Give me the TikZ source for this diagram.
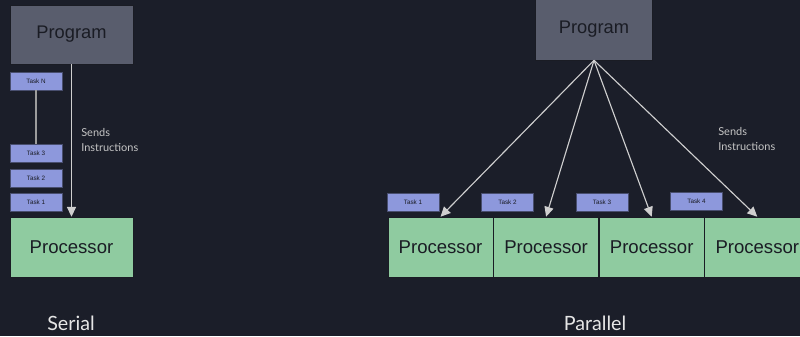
\documentclass[tikz,border=0pt]{standalone}
\usepackage{fontspec}
\setmainfont{Liberation Sans}
\newfontfamily\capfont{Lato}
\usetikzlibrary{arrows.meta,positioning}

\definecolor{bgnavy}{HTML}{1B1E29}
\definecolor{prgrey}{HTML}{595D6D}
\definecolor{taskblue}{HTML}{8D98DC}
\definecolor{procgreen}{HTML}{8FCBA0}
\definecolor{inktext}{HTML}{1A1C24}
\definecolor{wiregrey}{HTML}{9C9C9C}
\definecolor{capwhite}{HTML}{E6E6E6}

\begin{document}
\begin{tikzpicture}[
	x=0.025cm, y=-0.025cm,
	program/.style={ draw=inktext, thin, fill=prgrey, text=inktext, inner sep=0pt, font=\fontsize{13}{15}\selectfont },
	task/.style={ draw=inktext!60!taskblue, very thin, fill=taskblue, text=inktext, inner sep=0pt, minimum width=1.3cm, minimum height=0.45cm, font=\fontsize{4.5}{5}\selectfont },
	proc/.style={ draw=inktext, thin, fill=procgreen, text=inktext, inner sep=0pt, minimum height=1.5cm, font=\fontsize{13.2}{15}\selectfont },
	sends/.style={ anchor=west, align=left, inner sep=0pt, text=capwhite!85!black, font=\capfont\fontsize{7.8}{10}\selectfont },
	caption/.style={ text=capwhite, font=\capfont\fontsize{14}{16}\selectfont },
	wire/.style={ wiregrey, thick },
	send/.style={ draw=capwhite!90!black, thick, -{Triangle[length=7pt,width=6.5pt]} }
]
\fill[bgnavy] (0,0) rectangle (800,336);
\useasboundingbox (0,0) rectangle (800,336);

% serial side
\node at (71.5,34.5) (sprog) [program, minimum width=3.075cm, minimum height=1.475cm] {Program};
\node at (36,81) (staskN) [task] {Task N};
\node at (36,153.5) (stask3) [task] {Task 3};
\node at (36,178) (stask2) [task] {Task 2};
\node at (36,202) (stask1) [task] {Task 1};
\node at (71.5,247) (sproc) [proc, minimum width=3.075cm] {Processor};
\draw[wire] (staskN) to (stask3);
\draw[send] (sprog) to (sproc);
\node at (81,140) (ssends) [sends] {Sends\\Instructions};
\node at (71,323) (serial) [caption] {Serial};

% parallel side
\node at (594,29) (pprog) [program, minimum width=2.925cm, minimum height=1.55cm] {Program};
\node at (440.5,247) (proc1) [proc, minimum width=2.625cm] {Processor};
\node (proc2) [proc, minimum width=2.625cm, right=0pt of proc1] {Processor};
\node (proc3) [proc, minimum width=2.625cm, right=0pt of proc2] {Processor};
\node (proc4) [proc, minimum width=2.625cm, right=0pt of proc3] {Processor};
\node at (413,202.5) (ptask1) [task] {Task 1};
\node at (507.5,202.5) (ptask2) [task] {Task 2};
\node at (602,202.5) (ptask3) [task] {Task 3};
\node at (696.5,201.5) (ptask4) [task] {Task 4};
\draw[send] (pprog.south) to (proc1.north);
\draw[send] (pprog.south) to (proc2.north);
\draw[send] (pprog.south) to (proc3.north);
\draw[send] (pprog.south) to (proc4.north);
\node at (718,139) (psends) [sends] {Sends\\Instructions};
\node at (595,323) (parallel) [caption] {Parallel};

\end{tikzpicture}
\end{document}
